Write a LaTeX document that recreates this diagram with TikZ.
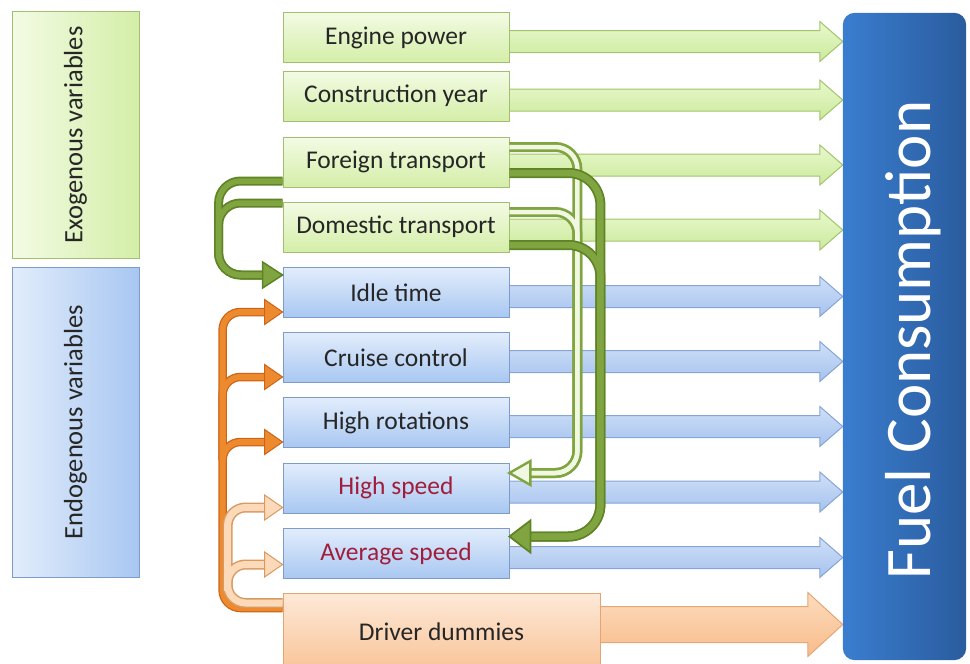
\documentclass[tikz,border=0pt]{standalone}
\usepackage{fontspec}
\setmainfont{Carlito}
\usetikzlibrary{calc}
\pgfdeclarelayer{bg}
\pgfsetlayers{bg,main}
\definecolor{txt}{HTML}{262626}
\definecolor{redtxt}{HTML}{A01E3C}
\definecolor{gtop}{HTML}{F3FBE4}
\definecolor{gbot}{HTML}{D4EEA8}
\definecolor{gbord}{HTML}{A3BE72}
\definecolor{btop}{HTML}{E2EDFC}
\definecolor{bbot}{HTML}{A8C7F1}
\definecolor{bbord}{HTML}{7E9CC8}
\definecolor{otop}{HTML}{FDE9D8}
\definecolor{obot}{HTML}{F9C498}
\definecolor{obord}{HTML}{E3A476}
\definecolor{fcl}{HTML}{3A7DCF}
\definecolor{fcr}{HTML}{2A5C9E}
\definecolor{gedge}{HTML}{5F8426}
\definecolor{gmid}{HTML}{7FA440}
\definecolor{gpale}{HTML}{F0F8E2}
\definecolor{oedge}{HTML}{CC6518}
\definecolor{omid}{HTML}{EE8A2E}
\definecolor{pedge}{HTML}{D99A62}
\definecolor{pfill}{HTML}{FCD9B8}
\definecolor{gatop}{HTML}{E8F8CC}
\definecolor{gabot}{HTML}{CBEA9C}
\definecolor{gabord}{HTML}{A2C46C}
\definecolor{batop}{HTML}{CFE0F8}
\definecolor{babot}{HTML}{A6C2EE}
\definecolor{babord}{HTML}{86A4D4}
\definecolor{oatop}{HTML}{FDDCBE}
\definecolor{oabot}{HTML}{F8BC8A}
\definecolor{oabord}{HTML}{E6A674}
\newcommand\mkblockarrow[6]{%
  \path ([yshift=#3]#2.east) coordinate (ba-s) (ba-s -| fc.west) coordinate (ba-e);
  \draw[#1] ($(ba-s)+(-1,-#4)$) -- ($(ba-e)+(-#6,-#4)$) -- ($(ba-e)+(-#6,-#5)$) -- (ba-e)
    -- ($(ba-e)+(-#6,#5)$) -- ($(ba-e)+(-#6,#4)$) -- ($(ba-s)+(-1,#4)$) -- cycle;}
\newcommand\mkheadR[4]{\draw[#4] (#1) -- ++(-#2,-#3) -- ++(0,2*#3) -- cycle;}
\newcommand\mkheadL[4]{\draw[#4] (#1) -- ++(#2,-#3) -- ++(0,2*#3) -- cycle;}
\begin{document}
\begin{tikzpicture}[x=1pt,y=-1pt,
  vbox/.style={minimum width=226, minimum height=50, inner sep=0, font=\fontsize{25.5}{29}\selectfont, text=txt, line width=0.8},
  gbox/.style={vbox, top color=gtop, bottom color=gbot, draw=gbord},
  bbox/.style={vbox, top color=btop, bottom color=bbot, draw=bbord},
  obox/.style={vbox, top color=otop, bottom color=obot, draw=obord},
  ga/.style={top color=gatop, bottom color=gabot, draw=gabord, line width=1},
  ba/.style={top color=batop, bottom color=babot, draw=babord, line width=1},
  oa/.style={top color=oatop, bottom color=oabot, draw=oabord, line width=1},
  sidelabel/.style={rotate=90, font=\fontsize{26.5}{30}\selectfont, text=txt},
]
\useasboundingbox (0,0) rectangle (970,664);
\clip (0,0) rectangle (970,664);

% side category boxes
\node[minimum width=127, minimum height=247, inner sep=0, left color=gtop, right color=gbot, draw=gbord, line width=0.8] (exo) at (75.5,135) {};
\node[sidelabel] (exot) at (exo.center) {Exogenous variables};
\node[minimum width=127, minimum height=310, inner sep=0, left color=btop, right color=bbot, draw=bbord, line width=0.8] (endo) at (75.5,422) {};
\node[sidelabel] (endot) at (endo.center) {Endogenous variables};

% Fuel consumption box
\node[minimum width=123, minimum height=647, inner sep=0] (fc) at (904.5,336.5) {};
\shade[left color=fcl, right color=fcr, rounded corners=12] (fc.north west) rectangle (fc.south east);
\node[rotate=90, text=white, font=\fontsize{65}{72}\selectfont] (fct) at (913,340) {Fuel Consumption};

% variable boxes
\node[gbox] (ep) at (396,37.5) {Engine power};
\node[gbox] (cy) at (396,96) {Construction year};
\node[gbox] (ft) at (396,162) {Foreign transport};
\node[gbox] (dt) at (396,227) {Domestic transport};
\node[bbox] (it) at (396,292.5) {Idle time};
\node[bbox] (cc) at (396,357.5) {Cruise control};
\node[bbox] (hr) at (396,422.5) {High rotations};
\node[bbox, text=redtxt] (hs) at (396,488) {High speed};
\node[bbox, text=redtxt] (as) at (396,553.5) {Average speed};
\node[obox, minimum width=317, minimum height=77] (dd) at (441.5,631.5) {Driver dummies};

% block arrows into Fuel Consumption
\begin{pgfonlayer}{bg}
\mkblockarrow{ga}{ep}{-4}{11}{20}{23}
\mkblockarrow{ga}{cy}{-4}{11}{20}{23}
\mkblockarrow{ga}{ft}{-3}{11}{20}{23}
\mkblockarrow{ga}{dt}{-3}{11}{20}{23}
\mkblockarrow{ba}{it}{-4}{11}{20}{23}
\mkblockarrow{ba}{cc}{-4}{11}{20}{23}
\mkblockarrow{ba}{hr}{-4}{11}{20}{23}
\mkblockarrow{ba}{hs}{-4}{11}{20}{23}
\mkblockarrow{ba}{as}{-4}{11}{20}{23}
\mkblockarrow{oa}{dd}{7}{18}{32}{35}
\end{pgfonlayer}

% head base coordinates
\coordinate (tip-it) at ([yshift=17.5]it.west);
\coordinate (hb-it) at ([xshift=-20]tip-it);
\coordinate (tip-hs) at ([yshift=15]hs.east);
\coordinate (hb-hs) at ([xshift=21]tip-hs);
\coordinate (tip-as) at ([yshift=17]as.east);
\coordinate (hb-as) at ([xshift=21]tip-as);

% green: transport -> idle time (left)
\begin{scope}[rounded corners=22]
\foreach \w/\c in {9/gedge,5.5/gmid}{
  \draw[line width=\w, draw=\c] ([yshift=-19]ft.west) -- ++(-64,0) |- (hb-it);
  \draw[line width=\w, draw=\c] ([yshift=24]dt.west) -- ++(-64,0) |- (hb-it);
}
\end{scope}
\mkheadR{tip-it}{20}{13}{fill=gmid, draw=gedge, line width=1.5}

% green hollow: transport -> high speed
\begin{scope}[rounded corners=22]
\foreach \w/\c in {10/gmid,4.5/gpale}{
  \draw[line width=\w, draw=\c] ([yshift=15]ft.east) -- ++(68,0) |- (hb-hs);
  \draw[line width=\w, draw=\c] ([yshift=15]dt.east) -- ++(68,0) |- (hb-hs);
}
\end{scope}
\mkheadL{tip-hs}{21}{12}{fill=gpale, draw=gmid, line width=2.4}

% green solid: transport -> average speed
\begin{scope}[rounded corners=32]
\foreach \w/\c in {10/gedge,6.5/gmid}{
  \draw[line width=\w, draw=\c] ([yshift=-11]ft.east) -- ++(91,0) |- (hb-as);
  \draw[line width=\w, draw=\c] ([yshift=-18]dt.east) -- ++(91,0) |- (hb-as);
}
\end{scope}
\mkheadL{tip-as}{21}{16}{fill=gmid, draw=gedge, line width=1.8}

% orange (dark): driver dummies -> idle, cruise, rotations
\coordinate (tip-oit) at ([yshift=-19.5]it.west);
\coordinate (hb-oit) at ([xshift=-18]tip-oit);
\coordinate (tip-occ) at ([yshift=-19.5]cc.west);
\coordinate (hb-occ) at ([xshift=-18]tip-occ);
\coordinate (tip-ohr) at ([yshift=-19.5]hr.west);
\coordinate (hb-ohr) at ([xshift=-18]tip-ohr);
\coordinate (ov) at ([xshift=-60,yshift=-10]hr.south west);
\begin{scope}[rounded corners=18]
\foreach \w/\c in {8.5/oedge,6/omid}{
  \draw[line width=\w, draw=\c] ([yshift=23.5]dd.west) -- ++(-60,0) |- (hb-oit);
  \draw[line width=\w, draw=\c] (ov) |- (hb-occ);
  \draw[line width=\w, draw=\c] (ov) |- (hb-ohr);
}
\end{scope}
\foreach \t in {oit,occ,ohr}{\mkheadR{tip-\t}{18}{12.5}{fill=omid, draw=oedge, line width=1}}

% orange (pale): driver dummies -> high speed, average speed
\coordinate (tip-ohs) at ([yshift=-19.5]hs.west);
\coordinate (hb-ohs) at ([xshift=-18]tip-ohs);
\coordinate (tip-oas) at ([yshift=-11]as.west);
\coordinate (hb-oas) at ([xshift=-18]tip-oas);
\coordinate (pv) at ([xshift=-55,yshift=-12]as.south west);
\begin{scope}[rounded corners=18]
\foreach \w/\c in {10/pedge,7/pfill}{
  \draw[line width=\w, draw=\c] ([yshift=28.5]dd.west) -- ++(-55,0) |- (hb-ohs);
  \draw[line width=\w, draw=\c] (pv) |- (hb-oas);
}
\end{scope}
\foreach \t in {ohs,oas}{\mkheadR{tip-\t}{18}{12.5}{fill=pfill, draw=pedge, line width=1}}
\end{tikzpicture}
\end{document}
